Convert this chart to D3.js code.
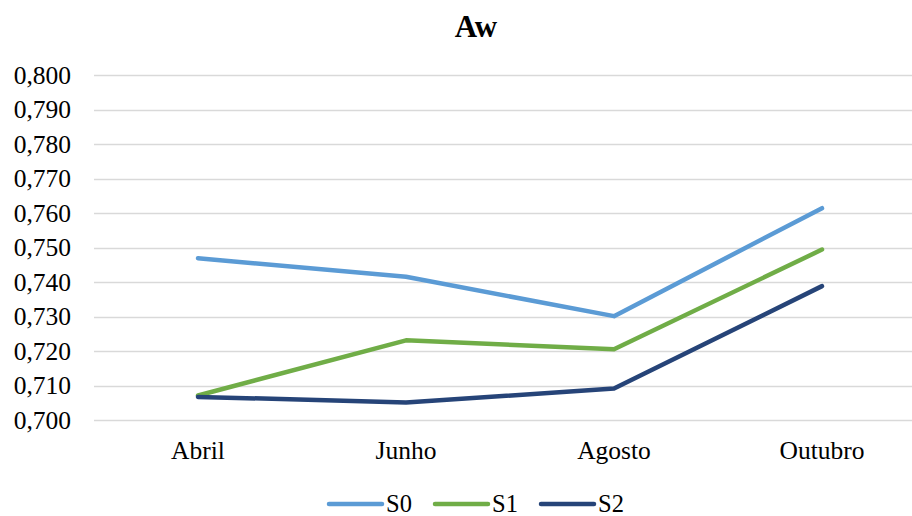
<!DOCTYPE html>
<html><head><meta charset="utf-8">
<script src="https://cdn.jsdelivr.net/npm/d3@7"></script>
<style>body{margin:0;background:#fff}svg{display:block}</style>
</head><body>
<svg id="c" width="912" height="516"></svg>
<script>
const categories = ["Abril", "Junho", "Agosto", "Outubro"];
const seriesNames = ["S0", "S1", "S2"];
const s0 = [0.7469, 0.7415, 0.7301, 0.7614];
const s1 = [0.7071, 0.7231, 0.7205, 0.7494];
const s2 = [0.7067, 0.7051, 0.7091, 0.7388];
const yTicks = [0.70, 0.71, 0.72, 0.73, 0.74, 0.75, 0.76, 0.77, 0.78, 0.79, 0.80];
const colors = ["#5B9BD5", "#70AD47", "#264478"];
const title = "Aw";

const svg = d3.select("#c");
const font = "'Liberation Serif','Times New Roman',serif";
const x = d3.scaleBand().domain(categories).range([94, 926]);
const y = d3.scaleLinear().domain([0.70, 0.80]).range([420, 75]);
const fmt = v => d3.format(".3f")(v).replace(".", ",");

// gridlines
svg.append("g").selectAll("line").data(yTicks).join("line")
  .attr("x1", 94).attr("x2", 926)
  .attr("y1", d => Math.round(y(d)) + 0.5).attr("y2", d => Math.round(y(d)) + 0.5)
  .attr("stroke", "#D9D9D9").attr("stroke-width", 1.3);

// y axis labels
const ya = svg.append("g").attr("transform", "translate(71,0)")
  .call(d3.axisLeft(y).tickValues(yTicks).tickFormat(fmt).tickSize(0).tickPadding(0));
ya.select(".domain").remove();
ya.selectAll("text").attr("font-family", font).attr("font-size", 25.5).attr("fill", "#000");

// x axis labels
const xa = svg.append("g").attr("transform", "translate(0,420)")
  .call(d3.axisBottom(x).tickSize(0).tickPadding(21));
xa.select(".domain").remove();
xa.selectAll("text").attr("font-family", font).attr("font-size", 25.5).attr("fill", "#000");

// lines
const data = [s0, s1, s2];
const line = d3.line().x((d, i) => x(categories[i]) + x.bandwidth() / 2).y(d => y(d));
svg.append("g").selectAll("path").data(data).join("path")
  .attr("d", line).attr("fill", "none")
  .attr("stroke", (d, i) => colors[i]).attr("stroke-width", 4.5)
  .attr("stroke-linecap", "round").attr("stroke-linejoin", "round");

// title
svg.append("text").attr("x", 476).attr("y", 37).attr("text-anchor", "middle")
  .attr("font-family", font).attr("font-size", 31).attr("font-weight", "bold").text(title);

// legend
const lg = svg.append("g").selectAll("g").data(seriesNames).join("g")
  .attr("transform", (d, i) => `translate(${329 + i * 106},504)`);
lg.append("line").attr("x1", 0).attr("x2", 53).attr("y1", 0).attr("y2", 0)
  .attr("stroke", (d, i) => colors[i]).attr("stroke-width", 4.5).attr("stroke-linecap", "round");
lg.append("text").attr("x", 57).attr("y", 8).attr("font-family", font).attr("font-size", 24.5)
  .attr("fill", "#000").text(d => d);
</script>
</body></html>
